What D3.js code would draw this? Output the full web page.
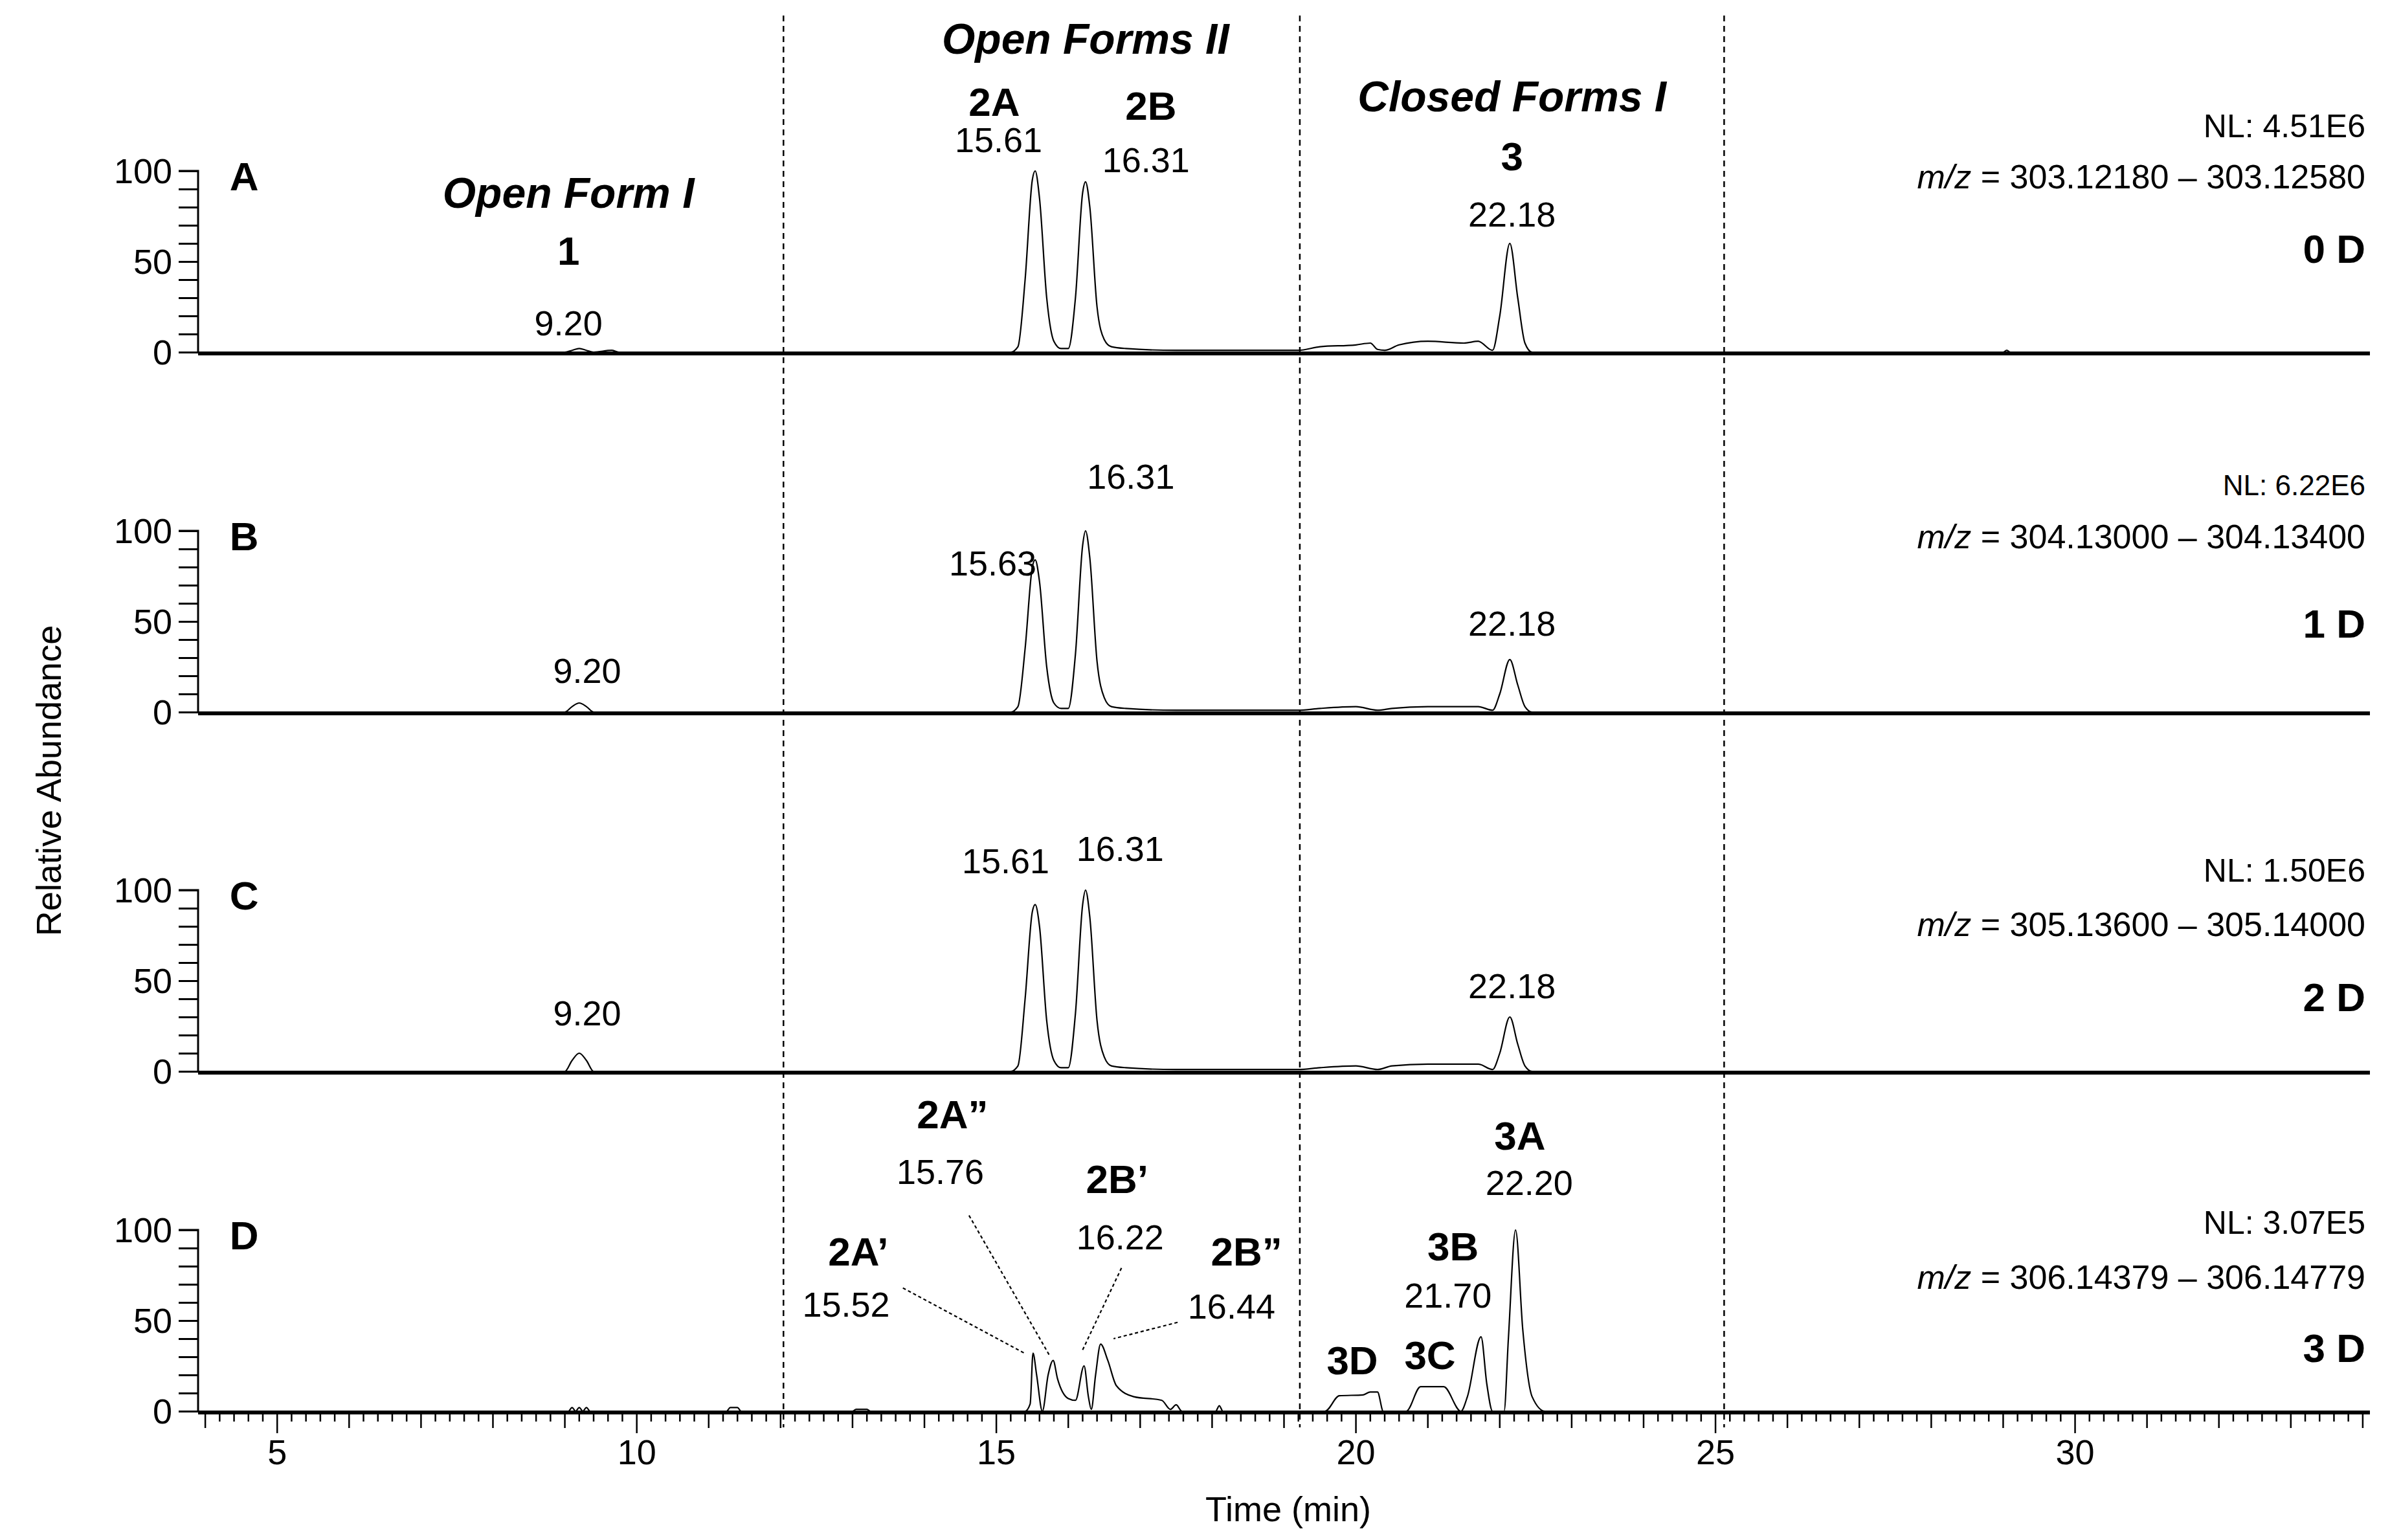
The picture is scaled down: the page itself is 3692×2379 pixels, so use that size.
<!DOCTYPE html>
<html><head><meta charset="utf-8">
<script src="https://cdn.jsdelivr.net/npm/d3@7"></script>
<style>body{margin:0;background:#fff}svg{display:block}text{font-family:"Liberation Sans",Arial,sans-serif;fill:#000}</style>
</head><body>
<script>
// ---------- DATA ----------
const panelNames = ["A","B","C","D"];
const deuterium = ["0 D","1 D","2 D","3 D"];
const nlLabels = ["NL: 4.51E6","NL: 6.22E6","NL: 1.50E6","NL: 3.07E5"];
const mzRanges = ["303.12180 – 303.12580","304.13000 – 304.13400","305.13600 – 305.14000","306.14379 – 306.14779"];
const xTickLabels = [5,10,15,20,25,30];
const yTickLabels = [0,50,100];
const dividerTimes = [12.04, 19.22, 25.12];

const traceA = [[3.9,0],[9.0,0],[9.1,1],[9.2,2],[9.3,1],[9.4,0],[9.65,1],[9.75,0],[15.2,0],[15.3,3],[15.4,40],[15.5,95],[15.54,100],[15.6,85],[15.7,30],[15.8,6],[15.9,2],[16.0,2],[16.1,30],[16.2,88],[16.24,94],[16.3,80],[16.4,25],[16.5,7],[16.6,3],[16.8,2],[17.5,1],[18.5,1],[19.2,1],[19.5,3],[20.0,4],[20.2,5],[20.3,1.5],[20.4,1],[20.6,4],[21.0,6],[21.5,5],[21.7,6],[21.9,1],[22.0,20],[22.14,60],[22.25,30],[22.35,5],[22.45,0],[29.0,0],[29.05,1],[29.1,0],[34.1,0]];
const traceB = [[3.9,0],[9.0,0],[9.1,3],[9.2,5],[9.3,3],[9.4,0],[15.2,0],[15.3,3],[15.4,35],[15.5,80],[15.54,84],[15.6,72],[15.7,25],[15.8,5],[15.9,2],[16.0,2],[16.1,32],[16.2,92],[16.24,100],[16.3,85],[16.4,28],[16.5,8],[16.6,3],[16.8,2],[17.5,1],[18.5,1],[19.2,1],[19.5,2],[20.0,3],[20.3,1],[20.5,2],[21.0,3],[21.7,3],[21.9,1],[22.0,10],[22.14,29],[22.25,15],[22.35,3],[22.45,0],[34.1,0]];
const traceC = [[3.9,0],[9.0,0],[9.1,6],[9.2,10],[9.3,6],[9.4,0],[15.2,0],[15.3,3],[15.4,40],[15.5,88],[15.54,92],[15.6,80],[15.7,28],[15.8,6],[15.9,2],[16.0,2],[16.1,32],[16.2,92],[16.24,100],[16.3,85],[16.4,28],[16.5,8],[16.6,3],[16.8,2],[17.5,1],[18.5,1],[19.2,1],[19.5,2],[20.0,3],[20.3,1],[20.5,3],[21.0,4],[21.7,4],[21.9,1],[22.0,10],[22.14,30],[22.25,15],[22.35,3],[22.45,0],[34.1,0]];
const traceD = [[3.9,0],[9.05,0],[9.1,2],[9.15,0],[9.2,2],[9.25,0],[9.3,2],[9.35,0],[11.25,0],[11.3,2],[11.4,2],[11.45,0],[13.0,0],[13.05,1],[13.2,1],[13.25,0],[15.4,0],[15.47,4],[15.51,32],[15.56,20],[15.64,0],[15.72,20],[15.79,28],[15.85,18],[16.0,7],[16.1,6],[16.22,25],[16.28,8],[16.32,1],[16.38,20],[16.45,37],[16.55,28],[16.67,14],[16.91,8],[17.3,6],[17.42,1],[17.5,3.5],[17.58,0],[18.05,0],[18.1,3],[18.15,0],[19.57,0],[19.77,8.5],[20.1,9],[20.2,10.6],[20.3,10.6],[20.38,0],[20.7,0],[20.9,13.5],[21.22,13.5],[21.46,0],[21.55,8],[21.74,41],[21.82,15],[21.9,0],[22.06,0],[22.12,40],[22.22,100],[22.32,45],[22.45,8],[22.63,0],[34.1,0]];
const traces = [traceA, traceB, traceC, traceD];

// annotations: [text, time, value(panel units), style]
const notesA = [["Open Forms II",16.24,173,"hdr"],["2A",14.97,138,"b"],["2B",17.15,136,"b"],["15.61",15.03,117,"n"],["16.31",17.08,106,"n"],
  ["Closed Forms I",22.17,141,"hdr"],["3",22.17,108,"b"],["22.18",22.17,76,"n"],["Open Form I",9.05,88,"hdr"],["1",9.05,56,"b"],["9.20",9.05,16,"n"]];
const notesB = [["15.63",14.95,82,"n"],["16.31",16.87,130,"n"],["22.18",22.17,49,"n"],["9.20",9.31,23,"n"]];
const notesC = [["15.61",15.13,116,"n"],["16.31",16.72,123,"n"],["22.18",22.17,47,"n"],["9.20",9.31,32,"n"]];
const notesD = [["2A”",14.39,164,"b"],["15.76",14.22,132,"n"],["2A’",13.08,88,"b"],["15.52",12.91,59,"n"],["2B’",16.68,128,"b"],["16.22",16.72,96,"n"],
  ["2B”",18.48,88,"b"],["16.44",18.27,58,"n"],["3A",22.28,152,"b"],["22.20",22.41,126,"n"],["3B",21.35,91,"b"],["21.70",21.28,64,"n"],["3D",19.95,28,"b"],["3C",21.03,31,"b"]];
const notes = [notesA, notesB, notesC, notesD];
// leader lines in D: [t1,v1,t2,v2]
const leadersD = [[13.70,68,15.39,32],[14.62,108,15.75,30],[16.74,79,16.19,33],[17.52,49,16.63,40]];
// right-side text vertical positions (panel units): NL, m/z, deuterium
const rightPosNL = [125,125,111,104];
const rightPosMZ = [97,97,81,74];
const rightPosD = [57,49,41,35];

// ---------- LAYOUT ----------
const W=3692,H=2379;
const svg=d3.select("body").append("svg").attr("width",W).attr("height",H);
const x=d3.scaleLinear().domain([3.9,34.1]).range([306,3661]);
const zeros=[544,1100,1655,2180], ph=280;
const FS=54;

dividerTimes.forEach(t=>svg.append("line").attr("x1",x(t)).attr("x2",x(t)).attr("y1",24).attr("y2",2205)
  .attr("stroke","#000").attr("stroke-width",2.5).attr("stroke-dasharray","9,7"));

traces.forEach((tr,i)=>{
  const y=d3.scaleLinear().domain([0,100]).range([zeros[i],zeros[i]-ph]);
  const g=svg.append("g");
  const ya=d3.axisLeft(y).tickValues(d3.range(0,101,10)).tickSize(30).tickFormat(d=>yTickLabels.includes(d)?d:"");
  const ag=g.append("g").attr("transform",`translate(${x.range()[0]},0)`).call(ya);
  ag.select(".domain").attr("stroke-width",3).attr("d",`M-30,${y(100)}H0V${y(0)}`);
  ag.selectAll("line").attr("stroke-width",3);
  ag.selectAll("text").attr("font-size",FS).attr("x",-40).attr("dy","0.35em");
  g.append("path").datum(tr).attr("fill","none").attr("stroke","#000").attr("stroke-width",2.2)
    .attr("d",d3.line().curve(d3.curveMonotoneX).x(d=>x(d[0])).y(d=>y(d[1])));
  g.append("line").attr("x1",x.range()[0]).attr("x2",x.range()[1]).attr("y1",y(0)+2).attr("y2",y(0)+2).attr("stroke","#000").attr("stroke-width",6);
  g.append("text").attr("x",x(4.54)).attr("y",y(97)).attr("dy","0.35em").attr("text-anchor","middle").attr("font-size",62).attr("font-weight","bold").text(panelNames[i]);
  const rx=3654;
  g.append("text").attr("x",rx).attr("y",y(rightPosNL[i])).attr("dy","0.35em").attr("text-anchor","end").attr("font-size",i===1?44:50).text(nlLabels[i]);
  const mz=g.append("text").attr("x",rx).attr("y",y(rightPosMZ[i])).attr("dy","0.35em").attr("text-anchor","end").attr("font-size",52);
  mz.append("tspan").attr("font-style","italic").text("m/z");
  mz.append("tspan").text(" = "+mzRanges[i]);
  g.append("text").attr("x",rx).attr("y",y(rightPosD[i])).attr("dy","0.35em").attr("text-anchor","end").attr("font-size",62).attr("font-weight","bold").text(deuterium[i]);
  notes[i].forEach(n=>{
    const t=g.append("text").attr("x",x(n[1])).attr("y",y(n[2])).attr("dy","0.35em").attr("text-anchor","middle").text(n[0]);
    if(n[3]==="hdr") t.attr("font-size",66).attr("font-weight","bold").attr("font-style","italic");
    else if(n[3]==="b") t.attr("font-size",62).attr("font-weight","bold");
    else t.attr("font-size",FS);
  });
  if(i===3){
    leadersD.forEach(l=>g.append("line").attr("x1",x(l[0])).attr("y1",y(l[1])).attr("x2",x(l[2])).attr("y2",y(l[3]))
      .attr("stroke","#000").attr("stroke-width",2.2).attr("stroke-dasharray","5,4"));
    const base=y(0)+4;
    const xa=g.append("g");
    const ticks=d3.range(4,34.01,0.2).map(v=>Math.round(v*10)/10);
    ticks.forEach(v=>{
      const major=Math.abs(v%5)<1e-6, mid=Math.abs(v-Math.round(v))<1e-6;
      xa.append("line").attr("x1",x(v)).attr("x2",x(v)).attr("y1",base).attr("y2",base+(major?30:mid?22:12)).attr("stroke","#000").attr("stroke-width",2.5);
    });
    xTickLabels.forEach(v=>xa.append("text").attr("x",x(v)).attr("y",base+78).attr("text-anchor","middle").attr("font-size",FS).text(v));
  }
});
svg.append("text").attr("x",1990).attr("y",2331).attr("dy","0.35em").attr("text-anchor","middle").attr("font-size",54).text("Time (min)");
svg.append("text").attr("transform","translate(75,1206) rotate(-90)").attr("dy","0.35em").attr("text-anchor","middle").attr("font-size",54).text("Relative Abundance");
</script>
</body></html>
